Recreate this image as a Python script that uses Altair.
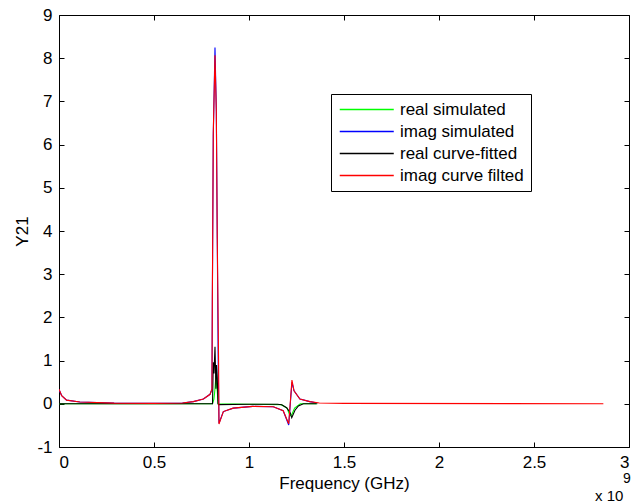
import altair as alt
import pandas as pd

FONT = "Liberation Sans"

# x in units of 1e9 Hz
series_names = ["real simulated", "imag simulated", "real curve-fitted", "imag curve filted"]
series_colors = ["#00ff00", "#0000ff", "#000000", "#ff0000"]

green_x = [0, 0.808, 0.815, 0.82, 0.826, 0.83, 0.833, 0.837, 1.0, 1.17, 1.2, 1.216, 1.225, 1.24, 1.27, 1.36]
green_y = [0, 0, 0.1, 0.3, 0.65, 0.4, 0.3, 0, -0.01, -0.02, -0.1, -0.28, -0.25, -0.1, 0, 0]

blue_x = [0, 0.014, 0.04, 0.11, 0.29, 0.5, 0.65, 0.707, 0.76, 0.795, 0.805, 0.807, 0.812, 0.821,
          0.828, 0.833, 0.838, 0.842, 0.865, 0.917, 1.02, 1.128, 1.18, 1.209, 1.226, 1.237, 1.268,
          1.32, 1.36]
blue_y = [0.33, 0.19, 0.085, 0.04, 0.015, 0.01, 0.02, 0.05, 0.11, 0.22, 0.34, 2.3, 6.2, 8.25,
          6.8, 3.8, 0.94, -0.45, -0.18, -0.1, -0.06, -0.07, -0.16, -0.49, 0.5, 0.3, 0.11,
          0.05, 0.02]

black_x = [0, 0.808, 0.812, 0.816, 0.821, 0.826, 0.829, 0.833, 0.837, 0.84, 1.0, 1.15, 1.172,
           1.198, 1.216, 1.225, 1.242, 1.26, 1.286, 1.356]
black_y = [0, 0, 0.96, 0.7, 1.32, 0.35, 0.9, 0.61, 0.0, -0.02, -0.01, -0.01, -0.02,
           -0.09, -0.2, -0.32, -0.15, -0.05, 0, 0]

red_x = [0, 0.014, 0.04, 0.11, 0.29, 0.5, 0.65, 0.707, 0.76, 0.795, 0.805, 0.807, 0.812, 0.821,
         0.828, 0.833, 0.840, 0.842, 0.865, 0.917, 1.02, 1.128, 1.18, 1.209, 1.226, 1.237, 1.268,
         1.32, 1.37, 1.5, 2.865]
red_y = [0.34, 0.19, 0.085, 0.04, 0.015, 0.01, 0.02, 0.05, 0.11, 0.22, 0.34, 2.35, 6.26, 8.07,
         6.76, 3.83, 0.96, -0.47, -0.18, -0.1, -0.06, -0.07, -0.16, -0.46, 0.55, 0.3, 0.11,
         0.05, 0.02, 0.01, 0.0]

x_ticks = [0, 0.5, 1, 1.5, 2, 2.5, 3]
y_ticks = [-1, 0, 1, 2, 3, 4, 5, 6, 7, 8, 9]


def frame(xs, ys, name):
    return pd.DataFrame({"freq": xs, "y21": ys, "series": [name] * len(xs)})


xscale = alt.Scale(domain=[0, 3], nice=False, zero=False)
yscale = alt.Scale(domain=[-1, 9], nice=False, zero=False)
cscale = alt.Scale(domain=series_names, range=series_colors)

legend = alt.Legend(
    title=None, orient="none", legendX=272, legendY=79,
    symbolType="M-2,0H14", symbolSize=45.6, symbolStrokeWidth=1.5, symbolOpacity=1,
    labelFont=FONT, labelFontSize=17, labelColor="black", labelOffset=45,
    rowPadding=4, padding=7, strokeColor="black", fillColor="white",
    cornerRadius=0, labelLimit=300,
)

lab = "datum.value + ''"

x_main = alt.Axis(orient="bottom", values=x_ticks, labelExpr=lab, ticks=False, domain=False,
                  grid=False, labelFont=FONT, labelFontSize=17, labelColor="black",
                  labelPadding=7, title="Frequency (GHz)", titleFont=FONT, titleFontSize=17,
                  titleFontWeight="normal", titleColor="black", titleY=41,
                  titleBaseline="alphabetic")
y_main = alt.Axis(orient="left", values=y_ticks, labelExpr=lab, ticks=False, domain=False,
                  grid=False, labelFont=FONT, labelFontSize=17, labelColor="black",
                  labelPadding=7, title="Y21", titleFont=FONT, titleFontSize=17,
                  titleFontWeight="normal", titleColor="black", titleX=-32, titleY=216,
                  titleAngle=270, titleBaseline="alphabetic", titleAlign="center")


def tick_axis(orient, vals):
    return alt.Axis(orient=orient, values=vals, labels=False, domain=False, grid=False,
                    ticks=True, tickSize=5, tickColor="black", tickWidth=1, offset=-5,
                    title=None)


def line_layer(xs, ys, name, xaxis, yaxis):
    xenc = alt.X("freq:Q", scale=xscale, axis=xaxis) if xaxis is not None else alt.X("freq:Q", scale=xscale, axis=None)
    yenc = alt.Y("y21:Q", scale=yscale, axis=yaxis) if yaxis is not None else alt.Y("y21:Q", scale=yscale, axis=None)
    return alt.Chart(frame(xs, ys, name)).mark_line(strokeWidth=1.1, clip=True).encode(
        x=xenc, y=yenc,
        color=alt.Color("series:N", scale=cscale, legend=legend),
    )


g = line_layer(green_x, green_y, series_names[0], x_main, y_main)
b = line_layer(blue_x, blue_y, series_names[1], tick_axis("bottom", x_ticks), tick_axis("left", y_ticks))
k = line_layer(black_x, black_y, series_names[2], tick_axis("top", x_ticks), tick_axis("right", y_ticks))
r = line_layer(red_x, red_y, series_names[3], None, None)

exp_base = alt.Chart(pd.DataFrame({"t": ["x 10"]})).mark_text(
    font=FONT, fontSize=15, align="left", baseline="alphabetic", color="black"
).encode(text="t:N", x=alt.value(536), y=alt.value(486))
exp_pow = alt.Chart(pd.DataFrame({"t": ["9"]})).mark_text(
    font=FONT, fontSize=14, align="left", baseline="alphabetic", color="black"
).encode(text="t:N", x=alt.value(564), y=alt.value(468))

chart = alt.layer(g, b, k, r, exp_base, exp_pow).resolve_axis(
    x="independent", y="independent"
).properties(
    width=570, height=432, autosize="none",
    padding={"left": 59, "top": 15, "right": 3, "bottom": 57},
    background="white",
).configure_view(stroke="black", strokeWidth=1)

chart.save("out.html", embed_options={"renderer": "svg", "actions": False})
